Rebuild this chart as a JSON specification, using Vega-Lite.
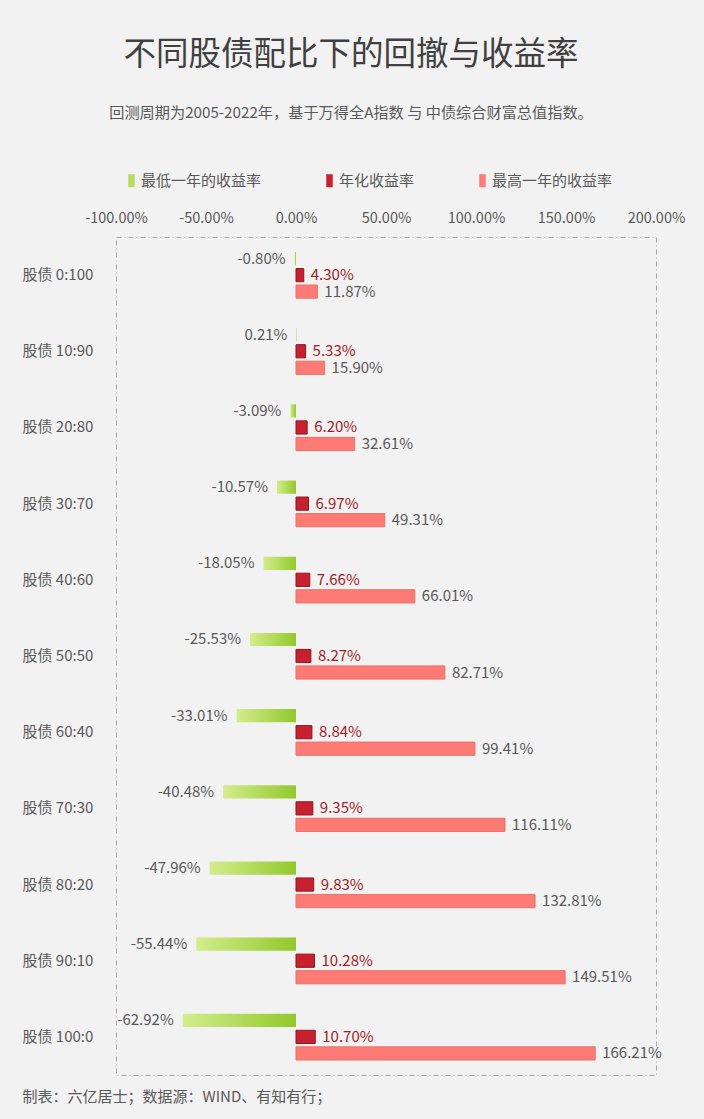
{
  "$schema": "https://vega.github.io/schema/vega-lite/v6.json",
  "autosize": {"type": "none"},
  "padding": {"left": 116, "top": 237, "right": 48, "bottom": 44},
  "width": 540,
  "height": 838,
  "background": "#f2f2f2",
  "config": {
    "font": "Noto Sans CJK SC",
    "view": {"stroke": "#a6a6a6", "strokeDash": [5, 3, 1, 3], "strokeWidth": 1},
    "locale": {"number": {"decimal": ".", "thousands": ",", "grouping": [3], "currency": ["$", ""], "minus": "-"}}
  },
  "title": {
    "text": "不同股债配比下的回撤与收益率",
    "subtitle": "回测周期为2005-2022年，基于万得全A指数 与 中债综合财富总值指数。",
    "fontSize": 32.5,
    "fontWeight": "normal",
    "color": "#404040",
    "subtitleFontSize": 15.2,
    "subtitleColor": "#595959",
    "subtitlePadding": 34,
    "anchor": "middle",
    "frame": "group",
    "dx": -35,
    "offset": 52
  },
  "data": {
    "values": [
      {"ratio": "股债 0:100", "series": "最低一年的收益率", "value": -0.0080},
      {"ratio": "股债 0:100", "series": "年化收益率", "value": 0.0430},
      {"ratio": "股债 0:100", "series": "最高一年的收益率", "value": 0.1187},
      {"ratio": "股债 10:90", "series": "最低一年的收益率", "value": 0.0021},
      {"ratio": "股债 10:90", "series": "年化收益率", "value": 0.0533},
      {"ratio": "股债 10:90", "series": "最高一年的收益率", "value": 0.1590},
      {"ratio": "股债 20:80", "series": "最低一年的收益率", "value": -0.0309},
      {"ratio": "股债 20:80", "series": "年化收益率", "value": 0.0620},
      {"ratio": "股债 20:80", "series": "最高一年的收益率", "value": 0.3261},
      {"ratio": "股债 30:70", "series": "最低一年的收益率", "value": -0.1057},
      {"ratio": "股债 30:70", "series": "年化收益率", "value": 0.0697},
      {"ratio": "股债 30:70", "series": "最高一年的收益率", "value": 0.4931},
      {"ratio": "股债 40:60", "series": "最低一年的收益率", "value": -0.1805},
      {"ratio": "股债 40:60", "series": "年化收益率", "value": 0.0766},
      {"ratio": "股债 40:60", "series": "最高一年的收益率", "value": 0.6601},
      {"ratio": "股债 50:50", "series": "最低一年的收益率", "value": -0.2553},
      {"ratio": "股债 50:50", "series": "年化收益率", "value": 0.0827},
      {"ratio": "股债 50:50", "series": "最高一年的收益率", "value": 0.8271},
      {"ratio": "股债 60:40", "series": "最低一年的收益率", "value": -0.3301},
      {"ratio": "股债 60:40", "series": "年化收益率", "value": 0.0884},
      {"ratio": "股债 60:40", "series": "最高一年的收益率", "value": 0.9941},
      {"ratio": "股债 70:30", "series": "最低一年的收益率", "value": -0.4048},
      {"ratio": "股债 70:30", "series": "年化收益率", "value": 0.0935},
      {"ratio": "股债 70:30", "series": "最高一年的收益率", "value": 1.1611},
      {"ratio": "股债 80:20", "series": "最低一年的收益率", "value": -0.4796},
      {"ratio": "股债 80:20", "series": "年化收益率", "value": 0.0983},
      {"ratio": "股债 80:20", "series": "最高一年的收益率", "value": 1.3281},
      {"ratio": "股债 90:10", "series": "最低一年的收益率", "value": -0.5544},
      {"ratio": "股债 90:10", "series": "年化收益率", "value": 0.1028},
      {"ratio": "股债 90:10", "series": "最高一年的收益率", "value": 1.4951},
      {"ratio": "股债 100:0", "series": "最低一年的收益率", "value": -0.6292},
      {"ratio": "股债 100:0", "series": "年化收益率", "value": 0.1070},
      {"ratio": "股债 100:0", "series": "最高一年的收益率", "value": 1.6621}
    ]
  },
  "encoding": {
    "y": {
      "field": "ratio",
      "type": "nominal",
      "sort": null,
      "scale": {"paddingInner": 0.35, "paddingOuter": 0.175},
      "axis": {
        "title": null,
        "labelAlign": "left",
        "labelPadding": 94,
        "ticks": false,
        "domain": false,
        "grid": false,
        "labelFontSize": 15,
        "labelColor": "#595959"
      }
    },
    "yOffset": {
      "field": "series",
      "type": "nominal",
      "scale": {
        "domain": ["最低一年的收益率", "年化收益率", "最高一年的收益率"],
        "paddingInner": 0.2,
        "paddingOuter": 0.1
      }
    }
  },
  "resolve": {"axis": {"x": "independent"}},
  "layer": [
    {
      "transform": [{"filter": "datum.series !== '最低一年的收益率'"}],
      "mark": {"type": "bar", "strokeWidth": 1},
      "encoding": {
        "x": {
          "field": "value",
          "type": "quantitative",
          "scale": {"domain": [-1, 2], "nice": false},
          "axis": {
            "orient": "top",
            "title": null,
            "values": [-1, -0.5, 0, 0.5, 1, 1.5, 2],
            "format": ".2%",
            "ticks": false,
            "domain": false,
            "grid": false,
            "labelFlush": false,
            "labelOverlap": false,
            "labelPadding": 12,
            "labelFontSize": 14.5,
            "labelColor": "#595959"
          }
        },
        "color": {
          "field": "series",
          "type": "nominal",
          "scale": {
            "domain": ["最低一年的收益率", "年化收益率", "最高一年的收益率"],
            "range": ["#b8dd5c", "#c8202f", "#fe7b75"]
          },
          "legend": {
            "orient": "none",
            "legendX": 8,
            "legendY": -64,
            "direction": "horizontal",
            "title": null,
            "labelFontSize": 15,
            "labelColor": "#595959",
            "symbolType": "M-0.5,-1H0.5V1H-0.5Z",
            "symbolSize": 169,
            "symbolStrokeWidth": 0,
            "columnPadding": 60,
            "labelOffset": 2
          }
        },
        "stroke": {
          "field": "series",
          "type": "nominal",
          "scale": {
            "domain": ["最低一年的收益率", "年化收益率", "最高一年的收益率"],
            "range": ["#9ccb3a", "#8b1a22", "#e8716b"]
          },
          "legend": null
        }
      }
    },
    {
      "transform": [{"filter": "datum.series === '最低一年的收益率'"}],
      "mark": {
        "type": "bar",
        "fill": {
          "gradient": "linear",
          "x1": 0, "y1": 0, "x2": 1, "y2": 0,
          "stops": [
            {"offset": 0, "color": "#d3ed8c"},
            {"offset": 1, "color": "#93c82c"}
          ]
        }
      },
      "encoding": {
        "x": {
          "field": "value",
          "type": "quantitative",
          "axis": {
            "orient": "bottom",
            "labels": false,
            "ticks": false,
            "domain": false,
            "grid": false,
            "title": "制表：六亿居士；数据源：WIND、有知有行；",
            "titleX": -94,
            "titleAlign": "left",
            "titleAnchor": "start",
            "titleFontSize": 15,
            "titleFontWeight": "normal",
            "titleColor": "#595959",
            "titlePadding": 14
          }
        }
      }
    },
    {
      "transform": [{"filter": "datum.series === '最低一年的收益率'"}],
      "mark": {"type": "text", "align": "right", "baseline": "middle", "dx": -9, "fontSize": 15, "color": "#595959"},
      "encoding": {
        "x": {"field": "value", "type": "quantitative", "axis": null},
        "text": {"field": "value", "type": "quantitative", "format": ".2%"}
      }
    },
    {
      "transform": [{"filter": "datum.series === '年化收益率'"}],
      "mark": {"type": "text", "align": "left", "baseline": "middle", "dx": 7, "fontSize": 15, "color": "#a01c26"},
      "encoding": {
        "x": {"field": "value", "type": "quantitative", "axis": null},
        "text": {"field": "value", "type": "quantitative", "format": ".2%"}
      }
    },
    {
      "transform": [{"filter": "datum.series === '最高一年的收益率'"}],
      "mark": {"type": "text", "align": "left", "baseline": "middle", "dx": 7, "fontSize": 15, "color": "#595959"},
      "encoding": {
        "x": {"field": "value", "type": "quantitative", "axis": null},
        "text": {"field": "value", "type": "quantitative", "format": ".2%"}
      }
    }
  ]
}
